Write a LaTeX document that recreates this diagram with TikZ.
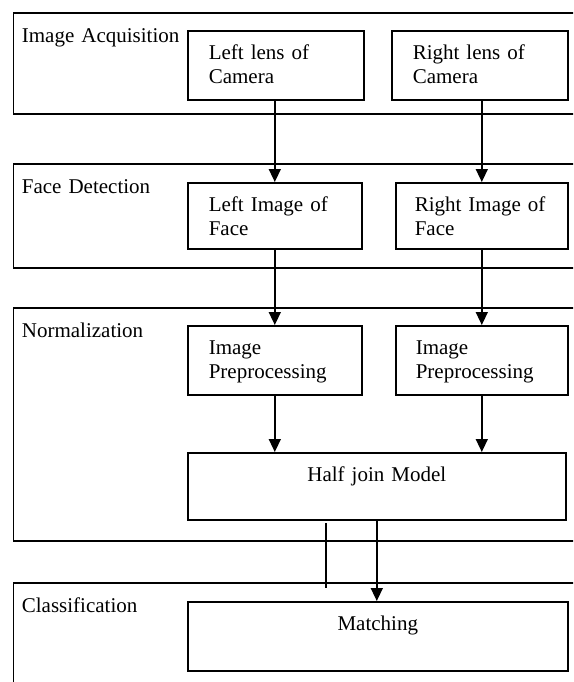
\documentclass[tikz,border=0pt]{standalone}
\usepackage{fontspec}
\setmainfont{Liberation Serif}
\usepackage{tikz}
\usetikzlibrary{arrows.meta}

\tikzset{
  stage/.style={draw, line width=1.8pt, anchor=north west, inner xsep=8.5pt, inner ysep=0pt, text height=29.5pt, align=left},
  block/.style={draw, line width=1.6pt, anchor=north west, inner xsep=21pt, inner ysep=0pt, text height=29pt, align=left},
  flow/.style={line width=1.5pt, -{Triangle[width=12pt,length=13pt]}},
}

\begin{document}
\begin{tikzpicture}[x=1pt, y=-1pt, font=\fontsize{21}{23.5}\selectfont]
\clip (0,0) rectangle (573,682);
\node[stage, text width=546.5pt, text depth=71.5pt] (acq) at (12.5,12) {Image Acquisition};
\node[stage, text width=546.5pt, text depth=74.5pt] (detect) at (12.5,163) {Face Detection};
\node[stage, text width=546.5pt, text depth=203.5pt] (norm) at (12.5,307) {Normalization};
\node[stage, text width=546.5pt, text depth=78.5pt] (classify) at (12.5,582) {Classification};

\node[block, text width=134pt, text depth=40pt] (lensL) at (187,30) {Left lens of\\Camera};
\node[block, text width=134pt, text depth=40pt] (lensR) at (391,30) {Right lens of\\Camera};
\node[block, text width=132pt, text depth=37pt] (faceL) at (187,182) {Left Image of\\Face};
\node[block, inner xsep=19pt, text width=134pt, text depth=37pt] (faceR) at (395,182) {Right Image of\\Face};
\node[block, text width=132pt, text depth=40pt] (prepL) at (187,325) {Image\\Preprocessing};
\node[block, inner xsep=20pt, text width=132pt, text depth=40pt] (prepR) at (395,325) {Image\\Preprocessing};
\node[block, align=center, text width=336pt, text depth=38pt] (model) at (187,452) {Half join Model};
\node[block, align=center, text width=338pt, text depth=40pt] (match) at (187,601) {Matching};

\draw[flow] (faceL.north |- lensL.south) -- (faceL.north);
\draw[flow] (faceR.north |- lensR.south) -- (faceR.north);
\draw[flow] (faceL.south) -- (prepL.north);
\draw[flow] (faceR.south) -- (prepR.north);
\draw[flow] (prepL.south) -- (prepL.south |- model.north);
\draw[flow] (prepR.south) -- (prepR.south |- model.north);
\draw[flow] (model.south) -- (model.south |- match.north);

\coordinate (stubA) at (326,523);
\coordinate (stubB) at (326,588);
\draw[line width=2pt] (stubA) -- (stubB);
\end{tikzpicture}
\end{document}
